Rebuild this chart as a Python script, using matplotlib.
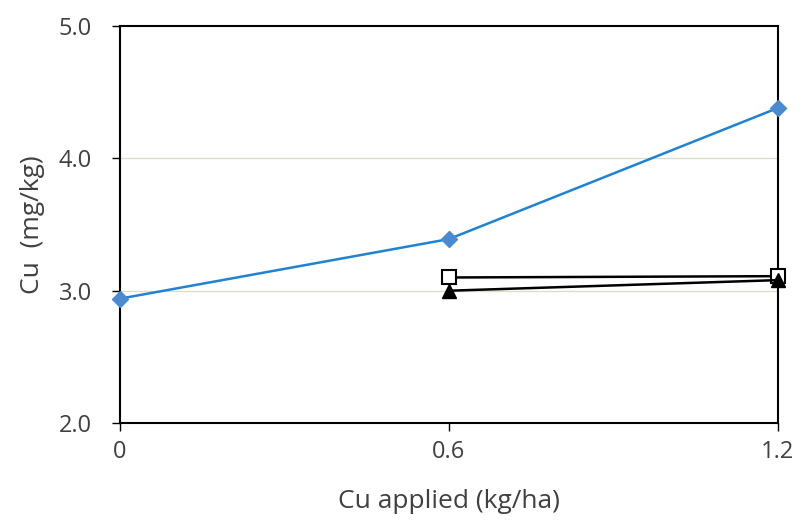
import matplotlib
matplotlib.use("Agg")
import matplotlib.pyplot as plt

# Cu rate applied (kg/ha)
cu_applied = [0, 0.6, 1.2]
cu_diamond = [2.94, 3.39, 4.38]

cu_applied_sub = [0.6, 1.2]
cu_square = [3.10, 3.11]
cu_triangle = [3.00, 3.08]

y_ticks = [2.0, 3.0, 4.0, 5.0]
x_ticks = [0, 0.6, 1.2]
x_labels = ["0", "0.6", "1.2"]

plt.rcParams["font.family"] = ["Open Sans", "DejaVu Sans"]

fig = plt.figure(figsize=(8.05, 5.21), dpi=100)
ax = fig.add_axes([0.149, 0.188, 0.817, 0.762])

for y in [3.0, 4.0]:
    ax.axhline(y, color="#dcdcc8", linewidth=1.0, zorder=0)

ax.plot(cu_applied, cu_diamond, color="#1f82d2", linewidth=1.8, marker="D",
        markersize=8, markerfacecolor="#4a8ad0", markeredgecolor="#4a8ad0",
        clip_on=False, zorder=3)
ax.plot(cu_applied_sub, cu_triangle, color="black", linewidth=1.8, marker="^",
        markersize=10, markerfacecolor="black", markeredgecolor="black",
        clip_on=False, zorder=4)
ax.plot(cu_applied_sub, cu_square, color="black", linewidth=1.8, marker="s",
        markersize=10, markerfacecolor="white", markeredgecolor="black",
        markeredgewidth=1.5, clip_on=False, zorder=3)

ax.set_xlim(0, 1.2)
ax.set_ylim(2.0, 5.0)
ax.set_xticks(x_ticks)
ax.set_xticklabels(x_labels)
ax.set_yticks(y_ticks)
ax.set_yticklabels([f"{v:.1f}" for v in y_ticks])

for s in ax.spines.values():
    s.set_linewidth(1.5)
    s.set_color("black")

ax.tick_params(axis="both", labelsize=17, length=6, width=1, direction="out",
               labelcolor="#404040", color="black")
ax.tick_params(axis="y", pad=14)
ax.tick_params(axis="x", pad=6)

ax.set_xlabel("Cu applied (kg/ha)", fontsize=19, color="#404040", labelpad=18)
ax.set_ylabel("Cu  (mg/kg)", fontsize=19, color="#404040", labelpad=10)

fig.savefig("out.png", dpi=100)
